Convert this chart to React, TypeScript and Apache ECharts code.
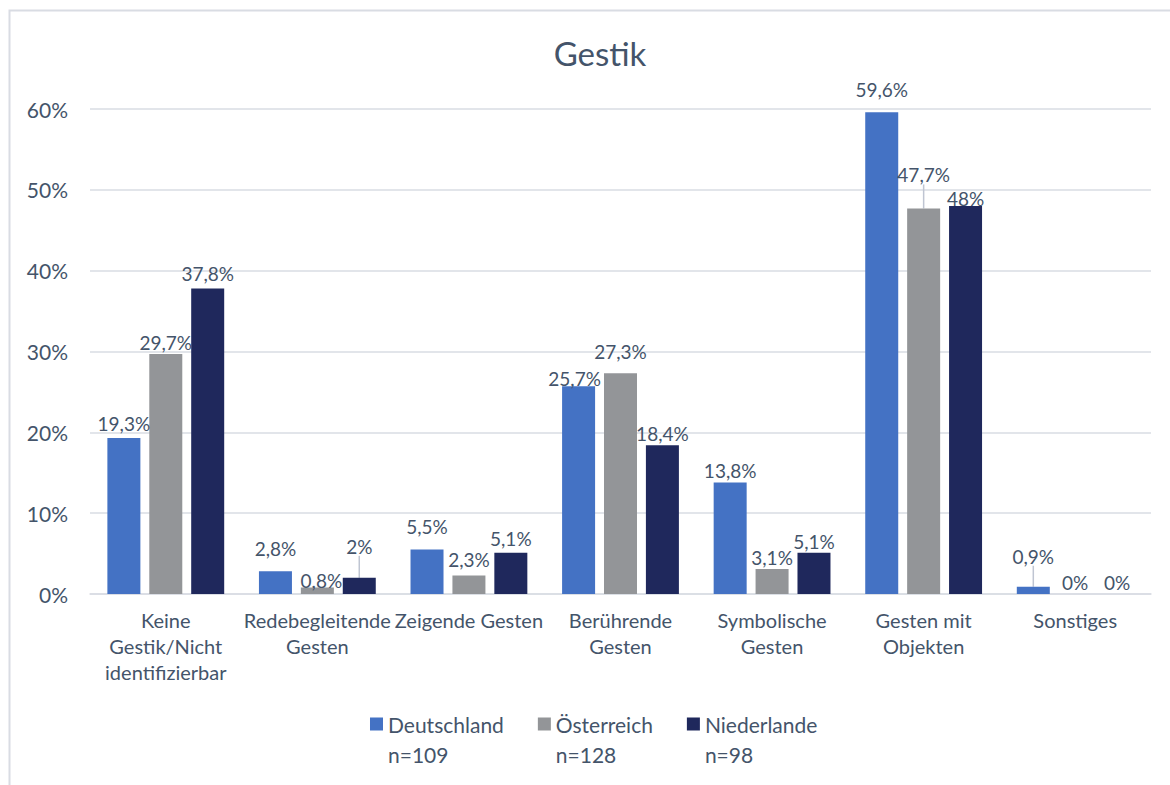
import React, { useEffect, useRef } from "react";
import * as echarts from "echarts";

const categories = [
  "Keine Gestik/Nicht identifizierbar",
  "Redebegleitende Gesten",
  "Zeigende Gesten",
  "Berührende Gesten",
  "Symbolische Gesten",
  "Gesten mit Objekten",
  "Sonstiges",
];
const seriesNames = ["Deutschland", "Österreich", "Niederlande"];
const sampleSizes = ["n=109", "n=128", "n=98"];
const deutschland = [19.3, 2.8, 5.5, 25.7, 13.8, 59.6, 0.9];
const oesterreich = [29.7, 0.8, 2.3, 27.3, 3.1, 47.7, 0];
const niederlande = [37.8, 2, 5.1, 18.4, 5.1, 48, 0];
const yTicks = [0, 10, 20, 30, 40, 50, 60];
const colors = ["#4472C4", "#939598", "#1F285C"];

// label adjustments [dx, dy] (manual Excel label placement)
const labelShift: Record<string, [number, number]> = {
  "0-0": [0, -3],
  "0-1": [0, -11],
  "0-2": [0, -12],
  "0-3": [-4, 4],
  "0-5": [0, -11],
  "0-6": [0, -19],
  "1-1": [4, 4],
  "1-2": [0, -4],
  "1-3": [0, -10],
  "1-5": [0, -22],
  "2-0": [0, -3],
  "2-1": [0, -20],
  "2-2": [0, -3],
  "2-5": [0, 4],
};
const leaderLines = ["0-6", "1-5", "2-1"];

const TEXT = "#44546A";
const FONT = "Lato";

function wrap(s: string, max: number) {
  const words = s.split(" ");
  const lines: string[] = [];
  let cur = "";
  for (const w of words) {
    if (!cur) cur = w;
    else if ((cur + " " + w).length <= max) cur += " " + w;
    else {
      lines.push(cur);
      cur = w;
    }
  }
  if (cur) lines.push(cur);
  return lines.join("\n");
}

export default function App() {
  const ref = useRef<HTMLDivElement>(null);
  useEffect(() => {
    if (!ref.current) return;
    const chart = echarts.init(ref.current, undefined, { renderer: "svg" });
    const allData = [deutschland, oesterreich, niederlande];
    const fmt = (v: number) => String(v).replace(".", ",") + "%";
    const series = allData.map((vals, si) => ({
      type: "bar",
      name: seriesNames[si],
      barWidth: 33,
      barGap: "27%",
      itemStyle: { color: colors[si] },
      label: {
        show: true,
        position: "top",
        distance: 2,
        color: TEXT,
        fontFamily: FONT,
        fontSize: 19,
        formatter: (p: any) => fmt(p.value),
      },
      labelLayout: (params: any) => {
        const s = labelShift[`${si}-${params.dataIndex}`];
        return s ? { dx: s[0], dy: s[1] } : {};
      },
      data: vals.map((v, di) => {
        const key = `${si}-${di}`;
        const item: any = { value: v };
        if (leaderLines.includes(key)) {
          item.labelLine = {
            show: true,
            smooth: false,
            length2: 0,
            lineStyle: { color: "#BFC5D2", width: 1.5 },
          };
        }
        return item;
      }),
    }));
    chart.setOption({
      animation: false,
      backgroundColor: "#ffffff",
      textStyle: { fontFamily: FONT },
      title: {
        text: "Gestik",
        left: 595,
        textAlign: "center",
        top: 31,
        textStyle: { color: TEXT, fontFamily: FONT, fontSize: 33, fontWeight: "normal" },
      },
      graphic: [
        {
          type: "rect",
          shape: { x: 9.5, y: 10.5, width: 1200, height: 800 },
          style: { fill: "none", stroke: "#D9DCE3", lineWidth: 2 },
          silent: true,
          z: -10,
        },
      ],
      grid: { left: 90, right: 19, top: 109, bottom: 191, containLabel: false },
      legend: {
        left: 365,
        top: 704,
        icon: "path://M0,0h13v13h-13z M0,43h0.001v0.001h-0.001z",
        itemWidth: 13,
        itemHeight: 43,
        itemGap: 34,
        data: seriesNames,
        formatter: (name: string) =>
          `${name}\n${sampleSizes[seriesNames.indexOf(name)]}`,
        textStyle: {
          color: TEXT,
          fontFamily: FONT,
          fontSize: 21,
          lineHeight: 30,
        },
      },
      xAxis: {
        type: "category",
        data: categories,
        axisTick: { show: false },
        axisLine: { lineStyle: { color: "#D9DCE3", width: 1.5 } },
        axisLabel: {
          color: TEXT,
          fontFamily: FONT,
          fontSize: 20,
          lineHeight: 26,
          margin: 13,
          interval: 0,
          formatter: (v: string) => wrap(v, 15),
        },
      },
      yAxis: {
        type: "value",
        min: yTicks[0],
        max: yTicks[yTicks.length - 1],
        interval: 10,
        axisLine: { show: false },
        axisTick: { show: false },
        splitLine: { lineStyle: { color: "#D9DCE3", width: 1.5 } },
        axisLabel: {
          color: TEXT,
          fontFamily: FONT,
          fontSize: 21,
          margin: 22,
          formatter: (v: number) => `${v}%`,
        },
      },
      series,
    });
    return () => chart.dispose();
  }, []);
  return (
    <div
      ref={ref}
      style={{ position: "fixed", left: 0, top: 0, width: 1170, height: 785 }}
    />
  );
}
